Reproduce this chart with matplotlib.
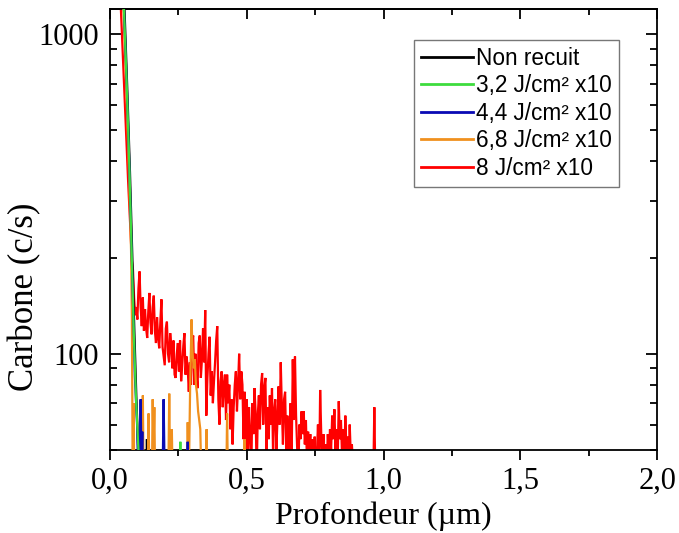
import matplotlib
matplotlib.use("Agg")
import matplotlib.pyplot as plt
from matplotlib.ticker import FixedLocator, FixedFormatter, LogLocator, NullFormatter

# ---------------- data ----------------
labels = ["Non recuit", "3,2 J/cm² x10", "4,4 J/cm² x10", "6,8 J/cm² x10", "8 J/cm² x10"]
colors = ["#000000", "#3ddc3d", "#0a0ab4", "#f0901e", "#ff0000"]

# values below 50 (the axis floor) stand for zero counts and are clipped
black_x = [0.049, 0.053, 0.063, 0.073, 0.081, 0.089, 0.097, 0.104, 0.110, 0.132, 0.135, 0.138, 0.300]
black_y = [1500, 1200, 680, 370, 210, 118, 70, 48, 40, 40, 54, 40, 40]

green_x = [0.047, 0.051, 0.061, 0.071, 0.079, 0.087, 0.095, 0.105, 0.112, 0.254, 0.257, 0.260, 0.300]
green_y = [1500, 1200, 700, 380, 210, 116, 72, 48, 40, 40, 53, 40, 40]

blue_x = [0.047, 0.051, 0.061, 0.071, 0.079, 0.087, 0.091, 0.099, 0.104, 0.108, 0.112, 0.115,
          0.118, 0.121, 0.192, 0.196, 0.200, 0.281, 0.284, 0.287, 0.300]
blue_y = [1500, 1200, 700, 380, 210, 116, 85, 60, 40, 40, 72, 45,
          57, 40, 40, 72, 40, 40, 53, 40, 40]

orange_x = [0.045, 0.049, 0.059, 0.069, 0.077, 0.080, 0.083, 0.086, 0.089, 0.117, 0.120, 0.123,
            0.138, 0.141, 0.144, 0.153, 0.156, 0.159, 0.162, 0.165, 0.213, 0.2165, 0.220,
            0.223, 0.226, 0.229, 0.281, 0.284, 0.288, 0.293, 0.298, 0.302, 0.306, 0.310,
            0.314, 0.318, 0.322, 0.326, 0.330, 0.334, 0.350, 0.353, 0.356, 0.425, 0.428,
            0.431, 0.489, 0.492, 0.495, 0.600]
orange_y = [1500, 1200, 700, 380, 210, 130, 40, 70, 40, 40, 74, 40,
            40, 65, 40, 40, 72, 50, 68, 40, 40, 75, 40,
            40, 58, 40, 40, 61, 40, 80, 128, 100, 90, 96,
            80, 75, 66, 62, 58, 40, 40, 58, 40, 40, 65,
            40, 40, 54, 40, 40]

# red: steep head, then a profile sampled every 0.004 µm from 0.080 to 0.888, then a tail
red_head_x = [0.035, 0.046, 0.056, 0.066, 0.076]
red_head_y = [1500, 900, 560, 350, 230]
red_step_start = 0.080
red_step = 0.004
red_profile = [
    # 0.080 - 0.176
    195, 183, 150, 132, 140, 128, 160, 181, 140, 122, 150, 118, 138,
    120, 112, 136, 155, 125, 115, 140, 152, 118, 108, 130, 112,
    # 0.180 - 0.276
    104, 126, 148, 105, 98, 92, 120, 126, 100, 94, 116, 106, 90,
    110, 86, 84, 100, 108, 88, 110, 82, 92, 106, 116, 86,
    # 0.280 - 0.376
    98, 90, 76, 94, 80, 108, 114, 80, 100, 86, 78, 108, 114,
    84, 96, 120, 94, 137, 64, 84, 100, 113, 74, 88, 70,
    # 0.380 - 0.476
    82, 94, 110, 122, 72, 60, 82, 88, 68, 80, 86, 62, 86,
    70, 80, 58, 72, 52, 68, 80, 88, 66, 80, 100, 72,
    # 0.480 - 0.576
    88, 80, 54, 76, 45, 72, 50, 68, 56, 40, 70, 56, 78,
    66, 42, 64, 74, 58, 80, 87, 60, 78, 84, 48, 68,
    # 0.580 - 0.676
    54, 74, 60, 78, 48, 66, 72, 50, 62, 79, 60, 94, 68,
    52, 72, 76, 50, 64, 40, 58, 70, 48, 96, 62, 98,
    # 0.680 - 0.776
    64, 50, 40, 60, 54, 66, 56, 66, 52, 62, 45, 57, 48,
    56, 42, 54, 40, 55, 40, 48, 60, 40, 77, 56, 45,
    # 0.780 - 0.888
    56, 40, 52, 44, 56, 48, 58, 50, 64, 54, 67, 50, 58, 46,
    71, 54, 62, 48, 58, 45, 64, 50, 55, 45, 60, 48, 52, 45,
]
red_tail_x = [0.895, 0.962, 0.966, 0.970, 1.000]
red_tail_y = [40, 40, 68, 40, 40]

red_x = (red_head_x
         + [round(red_step_start + red_step * i, 4) for i in range(len(red_profile))]
         + red_tail_x)
red_y = red_head_y + red_profile + red_tail_y

x_ticks = [0.0, 0.5, 1.0, 1.5, 2.0]
x_tick_labels = ["0,0", "0,5", "1,0", "1,5", "2,0"]
y_ticks = [100, 1000]
y_tick_labels = ["100", "1000"]

# ---------------- figure ----------------
fig = plt.figure(figsize=(6.79, 5.33), dpi=100)
ax = fig.add_axes([0.162, 0.156, 0.806, 0.827])

series = [
    (black_x, black_y, 3),
    (green_x, green_y, 6),
    (blue_x, blue_y, 5),
    (orange_x, orange_y, 4),
    (red_x, red_y, 2),
]
for (xs, ys, z), lab, col in zip(series, labels, colors):
    ax.plot(xs, ys, color=col, lw=1.6, label=lab, zorder=z, solid_joinstyle="miter")

ax.set_yscale("log")
ax.set_xlim(0, 2.0)
ax.set_ylim(50, 1200)

serif = "Liberation Serif"
ax.xaxis.set_major_locator(FixedLocator(x_ticks))
ax.xaxis.set_major_formatter(FixedFormatter(x_tick_labels))
ax.xaxis.set_minor_locator(FixedLocator([0.25, 0.75, 1.25, 1.75]))
ax.yaxis.set_major_locator(FixedLocator(y_ticks))
ax.yaxis.set_major_formatter(FixedFormatter(y_tick_labels))
ax.yaxis.set_minor_locator(LogLocator(base=10, subs=[2, 3, 4, 5, 6, 7, 8, 9]))
ax.yaxis.set_minor_formatter(NullFormatter())

ax.tick_params(axis="x", which="both", direction="out", bottom=True, top=False,
               width=1.3, labelsize=22, pad=5)
ax.tick_params(axis="x", which="major", length=7)
ax.tick_params(axis="x", which="minor", length=4)
ax.tick_params(axis="y", which="both", direction="in", left=True, right=True,
               width=1.3, labelsize=22, pad=8)
ax.tick_params(axis="y", which="major", length=8)
ax.tick_params(axis="y", which="minor", length=5)
# inward ticks on the top edge
sec = ax.secondary_xaxis("top")
sec.xaxis.set_major_locator(FixedLocator(x_ticks))
sec.xaxis.set_minor_locator(FixedLocator([0.25, 0.75, 1.25, 1.75]))
sec.tick_params(which="both", direction="in", labeltop=False, width=1.3)
sec.tick_params(which="major", length=7)
sec.tick_params(which="minor", length=4)

for lab in ax.get_xticklabels() + ax.get_yticklabels():
    lab.set_fontfamily(serif)

for sp in ax.spines.values():
    sp.set_linewidth(1.3)
sec.spines["top"].set_linewidth(1.3)

ax.set_xlabel("Profondeur (µm)", fontsize=23, fontfamily=serif, labelpad=4)
ax.set_ylabel("Carbone (c/s)", fontsize=25, fontfamily=serif)
ax.yaxis.set_label_coords(-0.125, 0.347)

leg = ax.legend(loc="upper right", bbox_to_anchor=(0.93, 0.93), borderaxespad=0,
                prop={"family": "Liberation Sans", "size": 16.3}, frameon=True,
                fancybox=False, edgecolor="#555555", handlelength=2.3,
                handletextpad=0.15, labelspacing=0.2, borderpad=0.3)
leg.get_frame().set_linewidth(1.0)
for h in leg.get_lines():
    h.set_linewidth(2.0)

fig.savefig("out.png", dpi=100)
